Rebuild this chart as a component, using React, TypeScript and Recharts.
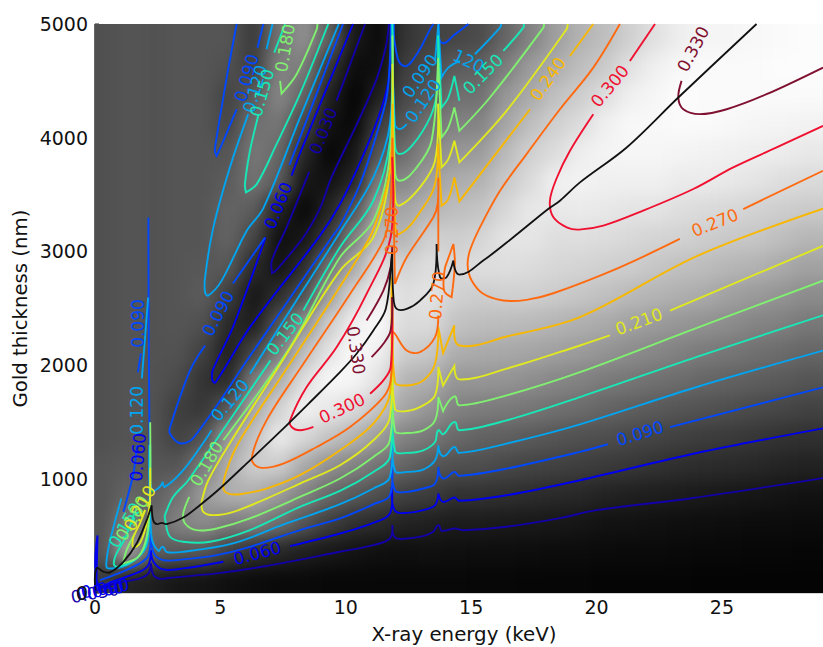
import { ScatterChart, Scatter, XAxis, YAxis, Label } from "recharts"

type Pt = [number, number]

const energyTicks = [0, 5, 10, 15, 20, 25]
const thicknessTicks = [0, 1000, 2000, 3000, 4000, 5000]

// gray level of the background, one list per energy column, bottom to top
const energyBins = [0.35, 1.35, 2.35, 3.35, 4.35, 5.35, 6.35, 7.35, 8.35, 9.35, 10.35, 11.35, 12.35, 13.35, 14.35, 15.35, 16.35, 17.35, 18.35, 19.35, 20.35, 21.35, 22.35, 23.35, 24.35, 25.35, 26.35, 27.35, 28.35]
const thicknessBins = [125, 375, 625, 875, 1125, 1375, 1625, 1875, 2125, 2375, 2625, 2875, 3125, 3375, 3625, 3875, 4125, 4375, 4625, 4875]
const grayLevels = [
  [60, 85, 85, 85, 85, 80, 80, 80, 80, 80, 80, 80, 80, 80, 80, 80, 80, 80, 80, 80],
  [35, 165, 125, 100, 90, 85, 85, 85, 85, 85, 85, 85, 85, 85, 85, 85, 85, 85, 85, 85],
  [30, 95, 105, 95, 85, 82, 82, 82, 82, 82, 82, 82, 82, 82, 82, 82, 82, 82, 82, 82],
  [22, 90, 130, 115, 85, 65, 62, 75, 82, 85, 85, 85, 85, 85, 85, 85, 85, 85, 85, 85],
  [20, 88, 140, 155, 125, 82, 55, 50, 65, 80, 92, 88, 85, 85, 85, 85, 85, 85, 85, 85],
  [15, 65, 125, 175, 175, 155, 90, 42, 30, 40, 62, 88, 100, 100, 92, 85, 70, 68, 80, 85],
  [12, 48, 130, 175, 205, 195, 170, 125, 70, 30, 22, 42, 70, 92, 115, 120, 112, 90, 62, 58],
  [10, 40, 110, 155, 205, 235, 210, 175, 125, 85, 45, 18, 15, 35, 92, 105, 118, 135, 130, 115],
  [10, 32, 85, 130, 170, 215, 242, 222, 190, 145, 80, 45, 22, 8, 22, 40, 70, 100, 125, 145],
  [8, 25, 62, 105, 145, 195, 232, 248, 228, 205, 160, 115, 60, 35, 18, 6, 18, 33, 55, 95],
  [8, 20, 48, 90, 130, 178, 218, 245, 250, 240, 215, 170, 130, 85, 38, 22, 8, 4, 12, 25],
  [8, 16, 42, 78, 115, 155, 195, 225, 240, 250, 240, 225, 190, 165, 130, 88, 62, 32, 15, 10],
  [8, 15, 35, 65, 100, 130, 165, 180, 205, 218, 222, 210, 180, 165, 135, 110, 88, 72, 62, 52],
  [8, 16, 32, 60, 88, 120, 150, 175, 200, 220, 228, 222, 210, 180, 160, 138, 115, 90, 75, 65],
  [8, 15, 28, 50, 80, 105, 130, 150, 175, 195, 210, 215, 205, 190, 172, 150, 130, 112, 92, 70],
  [7, 14, 28, 50, 78, 98, 125, 150, 170, 190, 205, 222, 212, 195, 178, 155, 132, 112, 95, 75],
  [7, 14, 26, 48, 72, 95, 122, 148, 168, 188, 208, 222, 228, 215, 200, 185, 165, 150, 125, 100],
  [6, 13, 25, 45, 68, 90, 118, 142, 165, 185, 208, 220, 230, 232, 218, 208, 190, 170, 155, 130],
  [6, 12, 24, 42, 65, 85, 112, 135, 160, 180, 203, 215, 222, 232, 240, 220, 208, 192, 172, 158],
  [6, 12, 22, 40, 62, 80, 108, 130, 155, 175, 198, 212, 222, 235, 242, 238, 220, 205, 190, 178],
  [5, 11, 18, 35, 58, 78, 100, 122, 148, 170, 192, 208, 220, 232, 240, 244, 240, 222, 202, 190],
  [5, 10, 18, 32, 55, 72, 95, 118, 140, 162, 185, 205, 216, 228, 240, 246, 248, 240, 225, 208],
  [5, 10, 16, 30, 50, 68, 90, 112, 135, 155, 180, 198, 212, 228, 240, 246, 248, 246, 240, 225],
  [5, 9, 15, 28, 46, 64, 85, 108, 128, 150, 175, 192, 210, 222, 235, 244, 250, 252, 248, 238],
  [4, 8, 14, 26, 44, 60, 82, 102, 122, 145, 170, 188, 205, 218, 235, 242, 250, 250, 250, 245],
  [4, 8, 13, 24, 42, 58, 78, 98, 118, 140, 160, 182, 200, 215, 232, 240, 248, 250, 250, 245],
  [4, 7, 12, 22, 40, 54, 74, 94, 112, 132, 154, 178, 198, 210, 228, 238, 245, 250, 250, 248],
  [4, 7, 12, 20, 36, 50, 70, 90, 108, 128, 148, 170, 190, 206, 222, 236, 244, 250, 252, 250],
  [4, 6, 11, 18, 34, 48, 66, 85, 102, 120, 140, 162, 182, 202, 218, 232, 242, 250, 252, 252],
]

const contour030: Pt[][] = [
  [[0.02, 20], [0.86, 85], [1.79, 128], [2.13, 172], [2.23, 260], [2.33, 158], [2.59, 125], [2.99, 134], [4.85, 172], [6.84, 237], [9.77, 362], [11.1, 421], [11.76, 479], [11.86, 596], [11.96, 488], [12.43, 479], [13.09, 500], [13.49, 538], [13.69, 596], [13.82, 547], [14.35, 567], [14.69, 552], [16.41, 582], [18.54, 658], [20, 728], [23.85, 835], [29.03, 1010]],
  [[10.77, 5000], [9.63, 4324]],
  [[8.54, 3700], [7.64, 3213], [7.05, 2920], [7.06, 2810], [7.22, 2835], [8.31, 3126], [8.97, 3380], [9.43, 3652], [10.4, 4100], [11.2, 4500], [11.6, 4800], [11.72, 5000]],
]
const contour060: Pt[][] = [
  [[0.05, 20], [0.1, 506], [0.13, 70], [0.86, 114], [1.79, 187], [2.13, 245], [2.23, 377], [2.33, 275], [2.72, 207], [3.52, 216], [5.12, 275]],
  [[7.78, 412], [9.77, 523], [11.1, 617], [11.76, 699], [11.83, 933], [11.96, 722], [12.43, 704], [13.09, 728], [13.56, 772], [13.69, 874], [13.88, 801], [14.33, 839], [14.52, 810], [16.41, 859], [19.34, 991], [24, 1230], [29.03, 1447]],
  [[10.29, 5000], [8.17, 3860], [7.84, 3667]],
  [[6.8, 3125], [5.5, 2336], [4.7, 1960], [4.68, 1870], [4.8, 1850], [6.18, 2336], [8.97, 3140], [9.77, 3418], [10.6, 3800], [11.3, 4180], [11.7, 4500], [11.8, 5000]],
]
const contour090: Pt[][] = [
  [[2.13, 3300], [2.14, 2400], [2.17, 1400], [2.2, 600]],
  [[1.83, 2105], [1.71, 1939]],
  [[1.13, 713], [1.53, 1050], [1.67, 1300]],
  [[0.2, 114], [0.93, 172], [1.79, 260], [2.13, 333], [2.23, 523], [2.35, 348], [2.72, 289], [3.52, 295], [4.85, 333], [6.18, 406], [8.17, 553], [9.77, 655], [11.1, 780], [11.76, 859], [11.83, 1166], [11.96, 903], [12.43, 889], [13.09, 918], [13.56, 962], [13.69, 1108], [13.88, 1006], [14.33, 1064], [14.52, 1029], [16.41, 1093], [19.34, 1240], [20.45, 1307]],
  [[22.93, 1457], [29.03, 1807]],
  [[9.89, 5000], [8.17, 4000], [7.75, 3760]],
  [[6.78, 3123], [5.5, 2719]],
  [[4.39, 2175], [3.79, 1956], [2.99, 1456], [2.99, 1400], [3.39, 1316], [3.91, 1360], [6.18, 2082], [7.77, 2590], [9.44, 3126], [9.77, 3228], [10.57, 3594], [11.23, 4032], [11.63, 4354], [11.76, 4675], [11.8, 5000]],
  [[5.65, 5000], [5.25, 4529], [4.85, 4003], [4.78, 3886], [4.85, 3842], [5.12, 3974], [5.65, 4251]],
  [[6.48, 4792], [6.71, 5000]],
  [[11.92, 5000], [11.96, 4822], [12.3, 4632], [12.83, 4734], [13.36, 4953], [13.5, 5000]],
  [[13.72, 5000], [13.82, 4836], [14.35, 4909], [14.89, 5000]],
]
const contour120: Pt[][] = [
  [[2.12, 2597], [1.87, 1886]],
  [[1.05, 830], [0.6, 460], [0.45, 260], [0.53, 216], [1.26, 245], [1.93, 362], [2.13, 500], [2.17, 1300], [2.25, 500], [2.52, 372], [2.7, 406], [2.86, 360], [3.52, 362], [5.5, 436], [7.5, 600], [9.77, 780], [11.1, 918], [11.76, 1020], [11.83, 1488], [11.96, 1073], [12.43, 1064], [13.09, 1085], [13.56, 1166], [13.69, 1298], [13.88, 1202], [14.33, 1283], [14.52, 1231], [16.41, 1313], [19.34, 1482], [24, 1810], [29.03, 2130]],
  [[2.2, 1300], [2.26, 903], [2.59, 933], [2.7, 977], [2.79, 933], [3.52, 1079], [4.39, 1342], [4.65, 1430]],
  [[6.18, 1927], [8, 2560], [9.77, 3170], [11.1, 3652], [11.76, 4120], [11.85, 5000], [11.96, 4120], [12.14, 4076], [12.43, 4120]],
  [[13.56, 4675], [13.69, 5000], [13.82, 4529], [14.09, 4617], [14.55, 4675]],
  [[15.15, 4734], [16.15, 4968], [16.2, 5000]],
  [[7.08, 5000], [6.84, 4778]],
  [[6.11, 4208], [5.38, 3740], [4.72, 3213], [4.39, 2775], [4.39, 2643], [4.52, 2614], [5.05, 2745], [6.05, 3184], [6.71, 3380], [8.17, 4176], [9.72, 5000]],
]
const contour150: Pt[][] = [
  [[2.2, 1300], [2.17, 669], [2, 406], [1.53, 284], [0.86, 231], [0.75, 260], [0.86, 348], [1.2, 480], [1.6, 720]],
  [[7, 2044], [5.5, 1560], [3.72, 991], [3.12, 845], [2.79, 684], [2.79, 655], [2.99, 494], [3.52, 450], [4.59, 450], [6.18, 553], [8.17, 757], [9.77, 897], [11.1, 1064], [11.76, 1196], [11.83, 1839], [11.96, 1248], [12.43, 1231], [13.09, 1254], [13.56, 1327], [13.69, 1430], [13.88, 1395], [14.33, 1503], [14.52, 1430], [16.41, 1517], [19.34, 1722], [24, 2075], [29.03, 2440]],
  [[8.31, 2482], [9.77, 3038], [11.1, 3447], [11.76, 3974], [11.86, 5000], [11.96, 3944], [12.14, 3857], [12.69, 3944], [13.36, 4178], [13.62, 4383], [13.68, 4900], [13.82, 4266], [14.09, 4354], [14.33, 4544], [14.53, 4324]],
  [[16.28, 4763], [17.08, 4968], [17.1, 5000]],
  [[7.58, 5000], [7.15, 4748]],
  [[6.51, 4193], [6.18, 3886], [5.98, 3593], [6.02, 3520], [6.45, 3593], [7.24, 3944], [8.17, 4383], [9.3, 5000]],
]
const contour180: Pt[][] = [
  [[2.2, 1500], [2.19, 816], [2.06, 494], [1.73, 319], [1.13, 260], [1.13, 275], [1.26, 377], [1.59, 523]],
  [[3.76, 845], [3.52, 699], [3.59, 611], [4.05, 552], [4.85, 567], [6.18, 655], [8.17, 845], [9.77, 1006], [11.1, 1196], [11.76, 1342], [11.83, 2131], [11.96, 1424], [12.43, 1406], [13.09, 1430], [13.56, 1517], [13.69, 1722], [13.88, 1599], [14.33, 1728], [14.52, 1649], [16.41, 1737], [19.34, 1941], [24, 2330], [29.03, 2745]],
  [[5.12, 1342], [7.78, 2161], [9.77, 2950], [11.1, 3272], [11.76, 3857], [11.86, 4900], [11.96, 3740], [12.14, 3623], [12.83, 3740], [13.42, 3974], [13.68, 4700], [13.82, 4003], [14.09, 4091], [14.33, 4266], [14.53, 4061], [15.75, 4354], [17.88, 4968], [17.9, 5000]],
  [[7.38, 4500], [7.44, 4389], [8.04, 4558], [8.84, 4953], [8.87, 5000]],
]
const contour210: Pt[][] = [
  [[2.2, 1100], [2.19, 816], [2.06, 611], [1.79, 436], [1.53, 406], [1.5, 450], [1.53, 494], [1.79, 611], [2, 728]],
  [[4.25, 801], [4.32, 713], [4.72, 684], [5.52, 713], [6.84, 830], [8.17, 962], [9.77, 1123], [11.1, 1342], [11.76, 1547], [11.83, 2424], [11.96, 1620], [12.43, 1599], [13.09, 1649], [13.56, 1737], [13.69, 1985], [13.88, 1824], [14.33, 1994], [14.52, 1877], [16.41, 1971], [19.34, 2175], [20.53, 2263]],
  [[22.93, 2482], [29.03, 3050]],
  [[4.25, 801], [4.52, 991], [5.45, 1342], [7.5, 2050], [9.77, 2833], [11.1, 3125], [11.76, 3710], [11.86, 4650], [11.96, 3477], [12.14, 3403], [12.96, 3564], [13.56, 3798], [13.68, 4300], [13.82, 3740], [14.09, 3813], [14.33, 3974], [14.53, 3784], [16.41, 4237], [18.8, 4953], [18.85, 5000]],
]
const contour240: Pt[][] = [
  [[17.35, 4251], [14.53, 3441], [14.33, 3652], [14.09, 3462], [13.82, 3403], [13.68, 3950], [13.56, 3593], [13.09, 3389], [12.14, 3155], [11.96, 3272], [11.86, 4300], [11.76, 3710], [11.36, 3360], [10.96, 3126], [9.5, 2599], [7.51, 1927], [5.78, 1342], [5.25, 1079], [5.12, 918], [5.32, 874], [5.78, 868], [6.84, 918], [8.17, 1035], [9.77, 1254], [11.1, 1488], [11.76, 1751], [11.83, 2780], [11.96, 1854], [12.43, 1824], [13.09, 1868], [13.56, 2014], [13.69, 2336], [13.88, 2108], [14.33, 2351], [14.52, 2175], [16.41, 2254], [19.34, 2424], [24, 2960], [29.03, 3377]],
  [[18.94, 4719], [19.87, 5000]],
]
const contour270: Pt[][] = [
  [[13.69, 3000], [13.69, 3650], [13.66, 3418], [13.49, 3301], [12.43, 2950], [11.96, 2716], [11.86, 4000], [11.76, 3360], [11.5, 3096], [10.17, 2628], [8.31, 2014], [6.84, 1517], [6.25, 1181], [6.58, 1102], [7.51, 1137], [8.84, 1283], [10.17, 1459], [11.5, 1722], [11.79, 1868], [11.85, 2300], [11.96, 2278], [12.43, 2131], [12.96, 2117], [13.56, 2248], [13.69, 2438]],
  [[13.96, 2863], [14.29, 3067], [14.35, 2892], [14.22, 2599], [13.92, 2658], [13.96, 2863]],
  [[20.93, 5000], [19.87, 4617], [18.54, 4251], [17.21, 3857], [16.15, 3535], [15.35, 3213], [14.95, 3009], [14.86, 2877], [15.02, 2746], [15.48, 2629], [16.28, 2570], [17.21, 2576], [18.28, 2634], [20.93, 2862], [23.32, 3111]],
  [[25.85, 3374], [29.03, 3710]],
]
const contour300: Pt[][] = [
  [[11.85, 3830], [11.79, 3126], [10.83, 2628], [9.64, 2161], [8.44, 1810], [7.78, 1517], [7.84, 1459], [8.17, 1430], [8.71, 1459]],
  [[10.97, 1751], [11.5, 1868], [11.79, 1985], [11.85, 2600]],
  [[22.33, 5000], [21.33, 4675]],
  [[19.87, 4207], [18.94, 3886], [18.4, 3640], [18.14, 3447], [18.28, 3301], [18.81, 3213], [19.3, 3193], [20.27, 3228], [21.86, 3360], [23.86, 3550], [25.45, 3740], [27.18, 3915], [29.03, 4105]],
]
const contour330: Pt[][] = [
  [[10.83, 2394], [11.5, 2658], [11.79, 2862], [11.85, 3050]],
  [[11.03, 2073], [11.5, 2190], [11.79, 2307], [11.85, 2600]],
  [[23.39, 4500], [23.26, 4354], [23.46, 4251], [24.12, 4208], [25.19, 4251], [26.78, 4383], [29.03, 4617]],
]
const optimumLine: Pt[] = [[0.02, 20], [0.06, 216], [0.33, 187], [0.6, 181], [1.13, 274], [1.66, 435], [2.06, 640], [2.26, 771], [2.32, 640], [2.46, 605], [2.66, 617], [2.86, 605], [3.52, 663], [4.18, 771], [4.98, 918], [6.18, 1166], [7.37, 1415], [8.5, 1660], [9.77, 1941], [10.43, 2102], [11.1, 2307], [11.6, 2500], [11.83, 2950], [11.85, 3000], [11.9, 2600], [12.03, 2497], [12.43, 2497], [12.96, 2570], [13.49, 2716], [13.62, 3067], [13.76, 2775], [14.02, 2775], [14.29, 2921], [14.53, 2798], [15.48, 2921], [16.68, 3126], [18.07, 3374], [18.54, 3447], [19.34, 3608], [21.2, 3915], [23.26, 4354], [26.38, 5000]]

const levelColors = ["#1200a8", "#0000f0", "#0048ff", "#00a4f0", "#18e8b8", "#80f070", "#e0e820", "#f8b800", "#ff6a10", "#f01030", "#801030"]
const contours = [contour030, contour060, contour090, contour120, contour150, contour180, contour210, contour240, contour270, contour300, contour330]

// text, energy, thickness, angle, colour index
const contourLabels: [string, number, number, number, number][] = [
  ["0.030", 9.1, 4061, -68, 0],
  ["0.060", 7.3, 3404, -68, 1],
  ["0.060", 6.47, 350, -15, 1],
  ["0.060", 1.71, 1193, -85, 1],
  ["0.090", 4.91, 2456, -62, 2],
  ["0.090", 6.04, 4526, -74, 2],
  ["0.090", 12.96, 4544, -55, 3],
  ["0.090", 1.71, 2368, -90, 2],
  ["0.090", 21.73, 1403, -17, 2],
  ["0.120", 5.38, 1693, -50, 3],
  ["0.120", 6.38, 4430, -74, 3],
  ["0.120", 13.08, 4325, -55, 3],
  ["120", 14.9, 4675, 25, 3],
  ["0.120", 1.67, 1605, -90, 3],
  ["0.150", 7.58, 2277, -52, 4],
  ["0.150", 6.66, 4395, -74, 4],
  ["0.150", 15.47, 4561, -45, 4],
  ["0.150", 1.2, 596, -60, 4],
  ["0.180", 4.45, 1137, -60, 5],
  ["0.180", 7.58, 4790, -80, 5],
  ["0.180", 1.48, 658, -60, 5],
  ["0.210", 21.69, 2386, -20, 6],
  ["0.210", 1.79, 745, -62, 6],
  ["0.240", 18.06, 4518, -55, 7],
  ["0.270", 24.72, 3254, -22, 8],
  ["0.270", 13.64, 2614, -85, 8],
  ["0.270", 11.85, 3184, -90, 8],
  ["0.300", 20.53, 4456, -50, 9],
  ["0.300", 9.85, 1623, -25, 9],
  ["0.330", 23.85, 4780, -62, 10],
  ["0.330", 10.41, 2132, 82, 10],
  ["0.030", 0, 0, -10, 0],
  ["0.060", 0.2, 20, -10, 1],
  ["0.090", 0.4, 40, -10, 1],
]

const heatCells = energyBins.flatMap((x, i) => thicknessBins.map((y, j) => ({ x, y, gray: grayLevels[i][j] })))
const labelPoints = contourLabels.map(([text, x, y, angle, level]) => ({ text, x, y, angle, level }))
const toPoints = (seg: Pt[]) => seg.map(([x, y]) => ({ x, y }))

const FONT = "'DejaVu Sans', sans-serif"

// rounds the bends between read points but keeps the sharp absorption spikes
const softCurve = (ctx: any) => {
  let pts: Pt[] = []
  return {
    areaStart() {},
    areaEnd() {},
    lineStart() {
      pts = []
    },
    point(x: number, y: number) {
      pts.push([+x, +y])
    },
    lineEnd() {
      const dirs = pts.map((p, i) => {
        const prev = pts[i - 1]
        const next = pts[i + 1]
        if (!prev || !next) return [0, 0]
        const ax = p[0] - prev[0]
        const ay = p[1] - prev[1]
        const bx = next[0] - p[0]
        const by = next[1] - p[1]
        const turn = (ax * bx + ay * by) / (Math.hypot(ax, ay) * Math.hypot(bx, by) || 1)
        if (turn < -0.5) return [0, 0]
        const dx = next[0] - prev[0]
        const dy = next[1] - prev[1]
        const len = Math.hypot(dx, dy) || 1
        return [dx / len, dy / len]
      })
      pts.forEach((p, i) => {
        if (i === 0) {
          ctx.moveTo(p[0], p[1])
          return
        }
        const q = pts[i - 1]
        const h = Math.hypot(p[0] - q[0], p[1] - q[1]) / 3
        ctx.bezierCurveTo(q[0] + dirs[i - 1][0] * h, q[1] + dirs[i - 1][1] * h, p[0] - dirs[i][0] * h, p[1] - dirs[i][1] * h, p[0], p[1])
      })
    },
  }
}

function HeatCell(props: any) {
  const { cx, cy, payload } = props
  const g = payload.gray
  // outer cells run past the frame so the blur does not fade at the edges
  const left = payload.x === energyBins[0] ? 30 : 0
  const right = payload.x === energyBins[energyBins.length - 1] ? 40 : 0
  const bottom = payload.y === thicknessBins[0] ? 30 : 0
  const top = payload.y === thicknessBins[thicknessBins.length - 1] ? 30 : 0
  return <rect x={cx - 13 - left} y={cy - 15 - top} width={26 + left + right} height={30 + top + bottom} fill={`rgb(${g},${g},${g})`} />
}

function ContourLabel(props: any) {
  const { cx, cy, payload } = props
  return (
    <text
      x={cx}
      y={cy}
      textAnchor="middle"
      dominantBaseline="central"
      fontFamily={FONT}
      fontSize={17}
      fill={levelColors[payload.level]}
      transform={`rotate(${payload.angle} ${cx} ${cy})`}
    >
      {payload.text}
    </text>
  )
}

const NoDot = () => <g />

export default function App() {
  return (
    <div style={{ position: "absolute", left: 0, top: 0, width: 823, height: 647, background: "#fff" }}>
      <style>{`.heat { filter: url(#soft); clip-path: url(#frame); }`}</style>
      <ScatterChart width={823} height={647} margin={{ top: 24, right: 0, bottom: 0, left: 0 }}>
        <defs>
          <clipPath id="frame">
            <rect x={95} y={24} width={728} height={569} />
          </clipPath>
          <filter id="soft" filterUnits="userSpaceOnUse" x={0} y={0} width={900} height={700} colorInterpolationFilters="sRGB">
            <feGaussianBlur stdDeviation={9} />
          </filter>
        </defs>
        <XAxis
          type="number"
          dataKey="x"
          domain={[0, 29.03]}
          ticks={energyTicks}
          height={54}
          interval={0}
          tickSize={-4}
          tickMargin={12}
          tick={{ fontFamily: FONT, fontSize: 19, fill: "#111" }}
          tickLine={{ stroke: "#111" }}
          axisLine={{ stroke: "#c8c8c8", strokeWidth: 1.5 }}
        >
          <Label value="X-ray energy (keV)" position="insideBottom" offset={6} dx={5} style={{ fontFamily: FONT, fontSize: 19.8, fill: "#111" }} />
        </XAxis>
        <XAxis
          xAxisId="top"
          type="number"
          orientation="top"
          domain={[0, 29.03]}
          ticks={energyTicks}
          height={0}
          interval={0}
          tickSize={-4}
          tickFormatter={() => ""}
          tickLine={{ stroke: "#222" }}
          axisLine={{ stroke: "#222", strokeWidth: 1.5 }}
        />
        <YAxis
          type="number"
          dataKey="y"
          domain={[0, 5000]}
          ticks={thicknessTicks}
          width={95}
          interval={0}
          tickSize={-4}
          tickMargin={11}
          tick={{ fontFamily: FONT, fontSize: 19, fill: "#111" }}
          tickLine={{ stroke: "#222" }}
          axisLine={{ stroke: "#333", strokeWidth: 1.5 }}
        >
          <Label value="Gold thickness (nm)" angle={-90} position="insideLeft" offset={20} style={{ textAnchor: "middle", fontFamily: FONT, fontSize: 19.7, fill: "#111" }} />
        </YAxis>
        <Scatter className="heat" data={heatCells} shape={HeatCell} isAnimationActive={false} />
        {contours.flatMap((segments, i) =>
          segments.map((seg, j) => (
            <Scatter
              key={`c${i}-${j}`}
              data={toPoints(seg)}
              line={{ stroke: levelColors[i], strokeWidth: 1.9 }}
              lineJointType={softCurve as any}
              shape={NoDot}
              isAnimationActive={false}
            />
          ))
        )}
        <Scatter data={toPoints(optimumLine)} line={{ stroke: "#111", strokeWidth: 1.8 }} lineJointType={softCurve as any} shape={NoDot} isAnimationActive={false} />
        <Scatter data={labelPoints} shape={ContourLabel} isAnimationActive={false} />
      </ScatterChart>
    </div>
  )
}
